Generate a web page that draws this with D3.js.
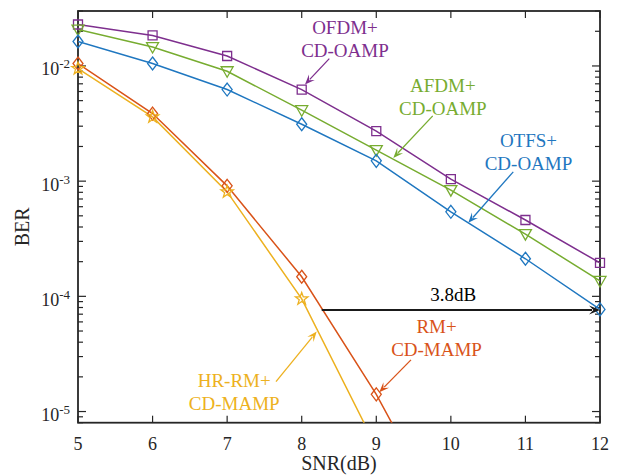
<!DOCTYPE html>
<html><head><meta charset="utf-8">
<script src="https://cdn.jsdelivr.net/npm/d3@7"></script>
<style>body{margin:0;background:#fff;} svg{display:block;} text{font-family:'Liberation Serif','DejaVu Serif',serif;}</style>
</head><body>
<svg id="c" width="620" height="475"></svg>
<script>
const snr = [5, 6, 7, 8, 9, 10, 11, 12];
const berOFDM = [0.0229, 0.0184, 0.0122, 0.00624, 0.00272, 0.00104, 4.6e-4, 1.95e-4];
const berAFDM = [0.0207, 0.0146, 0.0090, 0.00413, 0.00186, 8.35e-4, 3.47e-4, 1.36e-4];
const berOTFS = [0.0163, 0.0105, 0.00624, 0.00312, 0.0015, 5.42e-4, 2.12e-4, 7.7e-5];
const berRM   = [0.0105, 0.00386, 9.1e-4, 1.48e-4, 1.41e-5, 9e-7];
const berHRRM = [0.0095, 0.00361, 8.07e-4, 9.5e-5, 4.9e-6];
const xTicks = [5, 6, 7, 8, 9, 10, 11, 12];
const yMajor = [1e-5, 1e-4, 1e-3, 1e-2];
const yExp = ["-5", "-4", "-3", "-2"];

const series = [
  {name: "OFDM", vals: berOFDM, color: "#7E2F8E", marker: "square"},
  {name: "AFDM", vals: berAFDM, color: "#77AC30", marker: "tri"},
  {name: "OTFS", vals: berOTFS, color: "#1F77C0", marker: "diamond"},
  {name: "RM", vals: berRM, color: "#D95319", marker: "diamond"},
  {name: "HRRM", vals: berHRRM, color: "#EDB120", marker: "star"}
];

const notes = [
  {lines: ["OFDM+", "CD-OAMP"], tx: 8.58, ty: 0.01884, color: "#7E2F8E", a: [8.370, 0.01159, 8.044, 6.90e-3]},
  {lines: ["AFDM+", "CD-OAMP"], tx: 9.892, ty: 5.91e-3, color: "#77AC30", a: [9.757, 3.685e-3, 9.228, 1.592e-3]},
  {lines: ["OTFS+", "CD-OAMP"], tx: 11.041, ty: 1.972e-3, color: "#1F77C0", a: [10.837, 1.205e-3, 10.234, 4.355e-4]},
  {lines: ["3.8dB"], tx: 10.032, ty: 9.12e-5, color: "#000000", a: [8.268, 7.62e-5, 12, 7.62e-5], big: true},
  {lines: ["RM+", "CD-MAMP"], tx: 9.808, ty: 4.76e-5, color: "#D95319", a: [9.465, 2.81e-5, 9.040, 1.473e-5]},
  {lines: ["HR-RM+", "CD-MAMP"], tx: 7.095, ty: 1.637e-5, color: "#EDB120", a: [7.655, 1.820e-5, 8.201, 4.94e-5]}
];

const FONT = "'Liberation Serif','DejaVu Serif',serif";
const L = 78, R = 600, T = 11, B = 422.7;
const svg = d3.select("#c");
const x = d3.scaleLinear().domain([5, 12]).range([L, R]);
const y = d3.scaleLog().domain([8e-6, 0.03]).range([B, T]);
const axisCol = "#262626";

svg.append("defs").append("clipPath").attr("id", "clip")
  .append("rect").attr("x", L).attr("y", T).attr("width", R - L).attr("height", B - T);

// minor ticks
const minor = [];
for (let e = -6; e <= -2; e++) for (let m = 2; m <= 9; m++) {
  const v = m * Math.pow(10, e);
  if (v >= 8e-6 * 0.999 && v <= 0.03 * 1.001) minor.push(v);
}
const tg = svg.append("g").attr("stroke", axisCol).attr("stroke-width", 1.2);
minor.forEach(v => {
  tg.append("line").attr("x1", L).attr("x2", L + 5).attr("y1", y(v)).attr("y2", y(v));
  tg.append("line").attr("x1", R).attr("x2", R - 5).attr("y1", y(v)).attr("y2", y(v));
});
yMajor.forEach(v => {
  tg.append("line").attr("x1", L).attr("x2", L + 8).attr("y1", y(v)).attr("y2", y(v));
  tg.append("line").attr("x1", R).attr("x2", R - 8).attr("y1", y(v)).attr("y2", y(v));
});
xTicks.forEach(v => {
  tg.append("line").attr("x1", x(v)).attr("x2", x(v)).attr("y1", B).attr("y2", B - 7);
  tg.append("line").attr("x1", x(v)).attr("x2", x(v)).attr("y1", T).attr("y2", T + 7);
});

// box
svg.append("rect").attr("x", L).attr("y", T).attr("width", R - L).attr("height", B - T)
  .attr("fill", "none").attr("stroke", axisCol).attr("stroke-width", 1.8);

// tick labels
xTicks.forEach(v => {
  svg.append("text").attr("x", x(v)).attr("y", B + 27).attr("text-anchor", "middle")
    .attr("font-family", FONT).attr("font-size", 18).attr("fill", axisCol).text(v);
});
yMajor.forEach((v, i) => {
  const t = svg.append("text").attr("x", L - 8).attr("y", y(v) + 9.5).attr("text-anchor", "end")
    .attr("font-family", FONT).attr("font-size", 18).attr("fill", axisCol);
  t.append("tspan").text("10");
  t.append("tspan").attr("dy", -7).attr("font-size", 13).text(yExp[i]);
});

// axis titles
svg.append("text").attr("x", (L + R) / 2).attr("y", 470).attr("text-anchor", "middle")
  .attr("font-family", FONT).attr("font-size", 20).attr("fill", axisCol).text("SNR(dB)");
svg.append("text").attr("transform", `translate(29,${(T + B) / 2 + 10}) rotate(-90)`)
  .attr("font-family", FONT).attr("text-anchor", "middle").attr("font-size", 20).attr("fill", axisCol).text("BER");

// lines
const line = d3.line().x(d => x(d[0])).y(d => y(d[1]));
const lg = svg.append("g").attr("clip-path", "url(#clip)");
series.forEach(s => {
  const pts = s.vals.map((v, i) => [snr[i], v]);
  lg.append("path").attr("d", line(pts)).attr("fill", "none")
    .attr("stroke", s.color).attr("stroke-width", 1.5);
});

// markers
function markerPath(type) {
  if (type === "square") return "M-4.5,-4.5H4.5V4.5H-4.5Z";
  if (type === "diamond") return "M0,-6.5L5,0L0,6.5L-5,0Z";
  if (type === "tri") return "M-6,-4.5H6L0,6Z";
  if (type === "star") {
    let p = "";
    for (let k = 0; k < 10; k++) {
      const r = k % 2 === 0 ? 6.5 : 2.6;
      const a = -Math.PI / 2 + k * Math.PI / 5;
      p += (k ? "L" : "M") + (r * Math.cos(a)).toFixed(2) + "," + (r * Math.sin(a)).toFixed(2);
    }
    return p + "Z";
  }
}
const mg = svg.append("g");
series.forEach(s => {
  s.vals.forEach((v, i) => {
    if (v < 8e-6 || v > 0.03) return;
    mg.append("path").attr("d", markerPath(s.marker))
      .attr("transform", `translate(${x(snr[i])},${y(v)})`)
      .attr("fill", "none").attr("stroke", s.color).attr("stroke-width", 1.3);
  });
});

// annotations
const ag = svg.append("g");
notes.forEach(n => {
  const [x0v, y0v, x1v, y1v] = n.a;
  const x0 = x(x0v), y0 = y(y0v), x1 = x(x1v), y1 = y(y1v);
  const ang = Math.atan2(y1 - y0, x1 - x0);
  const hl = n.big ? 11 : 10, hw = n.big ? 4.5 : 4;
  const bx = x1 - hl * Math.cos(ang), by = y1 - hl * Math.sin(ang);
  const col = n.big ? "#1a1a1a" : n.color;
  ag.append("line").attr("x1", x0).attr("y1", y0).attr("x2", bx + 3 * Math.cos(ang)).attr("y2", by + 3 * Math.sin(ang))
    .attr("stroke", col).attr("stroke-width", n.big ? 2 : 1.3);
  const px = -Math.sin(ang), py = Math.cos(ang);
  const ix = x1 - (hl * 0.6) * Math.cos(ang), iy = y1 - (hl * 0.6) * Math.sin(ang);
  ag.append("path")
    .attr("d", `M${x1},${y1}L${bx + hw * px},${by + hw * py}L${ix},${iy}L${bx - hw * px},${by - hw * py}Z`)
    .attr("fill", col).attr("stroke", "none");
  n.lines.forEach((t, k) => {
    ag.append("text").attr("x", x(n.tx)).attr("y", y(n.ty) + k * 23)
      .attr("font-family", FONT).attr("text-anchor", "middle").attr("font-size", 19)
      .attr("fill", n.big ? "#000" : n.color).text(t);
  });
});
</script>
</body></html>
